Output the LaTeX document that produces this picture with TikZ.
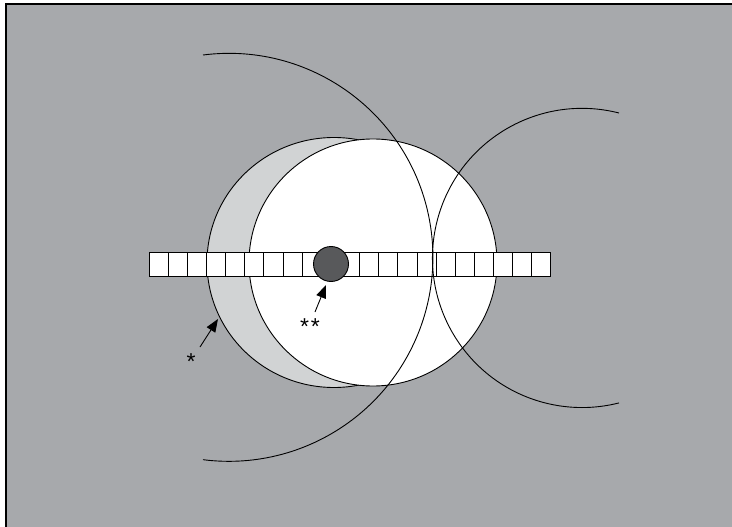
\documentclass[tikz,border=0pt]{standalone}
\usepackage{fontspec}
\setmainfont{Liberation Sans}
\usepackage{tikz}
\usetikzlibrary{arrows.meta, calc}
\usepackage{xcolor}
\definecolor{bggray}{RGB}{167,169,172}
\definecolor{shellgray}{RGB}{209,211,212}
\definecolor{coregray}{RGB}{88,89,91}
\tikzstyle{ar} = [-{Triangle[length=13pt, width=10pt]}, line width=0.9pt]

\begin{document}
\begin{tikzpicture}[x=1pt, y=-1pt, line width=0.9pt,
  shell/.style={draw, fill=shellgray},
  disc/.style={draw, fill=white},
  cell/.style={draw, fill=white, minimum width=19.14pt, minimum height=24pt, inner sep=0pt, outer sep=0pt},
  core/.style={circle, draw, fill=coregray, minimum size=35pt, inner sep=0pt},
  label/.style={font=\fontsize{23}{23}\selectfont, inner sep=0pt}]

  \useasboundingbox (0,0) rectangle (732,527);
  \fill[white] (0,0) rectangle (732,527);
  \fill[bggray] (6,4) rectangle (732,527);
  \draw[line width=1.2pt] (6,527) -- (6,4) -- (732,4);

  % the two round bodies
  \draw[shell] (334,262.5) ellipse [x radius=127, y radius=125];
  \draw[disc] (373,262.5) ellipse [x radius=124, y radius=123.5];

  % the strip of cells
  \foreach \i in {0,...,20}
    \node[cell] (c\i) at ({149+9.57+19.14*\i}, 264) {};

  % the two arcs
  \coordinate (lt) at (203,55);
  \coordinate (rt) at (619,113);
  \draw (lt) arc[start angle=-97.3, end angle=97.3, radius=204];
  \draw (rt) arc[start angle=284.3, end angle=75.7, radius=149.6];

  \node[core] (core) at (331,264) {};

  % labels
  \node[label] (one) at (191,362) {*};
  \node[label] (two) at (310,327) {*\hspace{2pt}*};
  \coordinate (onetip) at (218,319);
  \coordinate (twotip) at (326,285);
  \draw[ar] ($(one)+(9,-15)$) -- (onetip);
  \draw[ar] ($(two)+(5,-15)$) -- (twotip);
\end{tikzpicture}
\end{document}
